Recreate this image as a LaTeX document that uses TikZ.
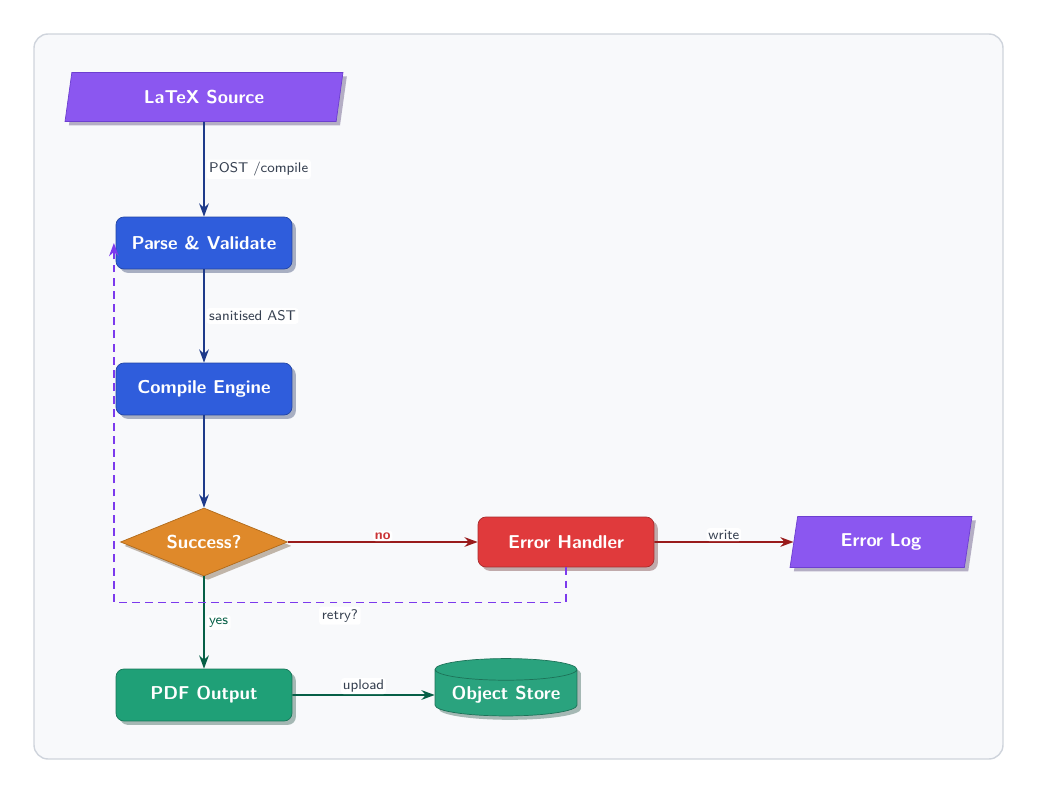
\documentclass[tikz,border=0pt]{standalone}
\usepackage{xcolor}
\usepackage{tikz}
\usetikzlibrary{arrows.meta,positioning,shapes.geometric,shadows}
\definecolor{PBg}{RGB}{248,249,251}
\definecolor{PFrame}{RGB}{207,212,220}
\definecolor{PViolet}{RGB}{139,87,240}
\definecolor{PVioletD}{RGB}{109,63,208}
\definecolor{PBlue}{RGB}{47,93,220}
\definecolor{PBlueD}{RGB}{30,58,138}
\definecolor{POrange}{RGB}{223,137,42}
\definecolor{POrangeD}{RGB}{176,106,26}
\definecolor{PRed}{RGB}{224,58,60}
\definecolor{PRedD}{RGB}{153,27,27}
\definecolor{PGreen}{RGB}{31,160,119}
\definecolor{PStore}{RGB}{42,163,126}
\definecolor{PGreenD}{RGB}{6,95,70}
\definecolor{PRetry}{RGB}{124,58,237}
\definecolor{PText}{RGB}{55,65,81}

\tikzset{
  boxshadow/.style={drop shadow={shadow xshift=2.2pt,shadow yshift=-2.2pt,fill=#1!40!black,opacity=0.35}},
  boxfont/.style={text=white,font=\sffamily\bfseries\fontsize{10.6}{13}\selectfont},
  procbox/.style={rectangle,rounded corners=4.5pt,minimum width=3.52cm,minimum height=1.04cm,
    boxfont,fill=#1,draw=#1!75!black,boxshadow=#1},
  iobox/.style={trapezium,trapezium left angle=75,trapezium right angle=105,trapezium stretches body,
    minimum height=0.98cm,boxfont,fill=PViolet,draw=PVioletD,boxshadow=PViolet},
  flowarrow/.style={-{Stealth[length=7.5pt,width=5.5pt]},line width=0.95pt},
  flowlabel/.style={font=\sffamily\footnotesize,text=PText,fill=white,rounded corners=1.5pt,inner sep=1.5pt}
}

\begin{document}
\begin{tikzpicture}[x=0.02cm,y=-0.02cm]
  \useasboundingbox (0,0) rectangle (1038,793);
  \draw[rounded corners=8pt,fill=PBg,draw=PFrame,thick] (34,34) rectangle (1003,759);

  % nodes
  \node[iobox,minimum width=5.56cm] (src) at (204,97) {LaTeX Source};
  \node[procbox=PBlue] (parse) at (204,243) {Parse \& Validate};
  \node[procbox=PBlue] (engine) at (204,389) {Compile Engine};
  \node[diamond,minimum width=3.34cm,minimum height=1.36cm,aspect=2.4,inner sep=1pt,
    fill=POrange,draw=POrangeD,boxfont,boxshadow=POrange] (ok) at (204,542) {Success?};
  \node[procbox=PRed,minimum height=1.0cm] (err) at (566,542) {Error Handler};
  \node[iobox,minimum width=3.64cm,minimum height=1.02cm] (log) at (881,542) {Error Log};
  \node[procbox=PGreen] (pdf) at (204,695) {PDF Output};
  \node[cylinder,shape border rotate=90,aspect=0.18,minimum width=2.84cm,minimum height=1.14cm,
    fill=PStore,draw=PStore!70!black,boxfont,boxshadow=PGreen] (store) at (506,695) {Object Store};

  % edges
  \draw[flowarrow,PBlueD] (src) -- node[flowlabel,anchor=west,xshift=1pt] {POST /compile} (parse);
  \draw[flowarrow,PBlueD] (parse) -- node[flowlabel,anchor=west,xshift=1pt] {sanitised AST} (engine);
  \draw[flowarrow,PBlueD] (engine) -- (ok);
  \draw[flowarrow,PRedD] (ok) -- node[flowlabel,above,inner sep=1pt,text=PRed!90!black,font=\sffamily\bfseries\footnotesize] {no} (err);
  \draw[flowarrow,PRedD] (err) -- node[flowlabel,above,inner sep=1pt] {write} (log);
  \draw[flowarrow,PGreenD] (ok) -- node[flowlabel,anchor=west,xshift=1pt,text=PGreenD] {yes} (pdf);
  \draw[flowarrow,PGreenD] (pdf) -- node[flowlabel,above,inner sep=1pt] {upload} (store.west);
  \draw[flowarrow,PRetry,dash pattern=on 4.5pt off 3pt] (err.south) -- ++(0,35)
    -| node[flowlabel,pos=0.25,below=2pt] {retry?} ([xshift=-1pt]parse.west);
\end{tikzpicture}
\end{document}
